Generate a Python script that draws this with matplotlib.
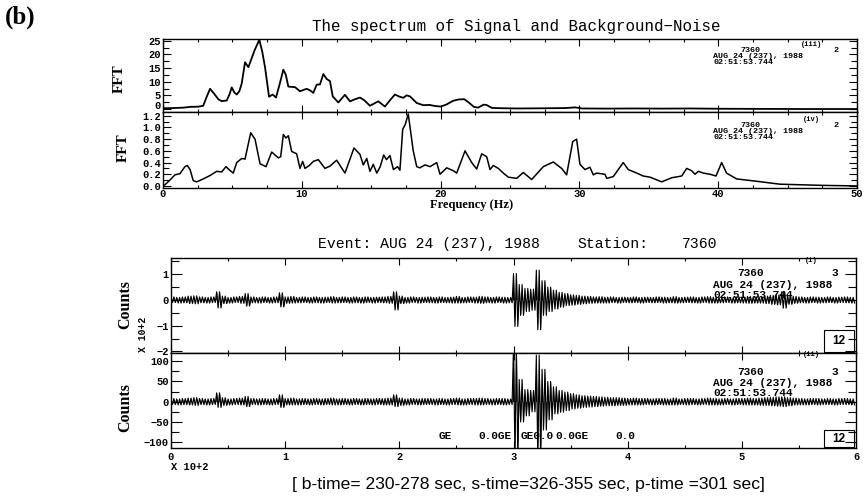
import numpy as np
import matplotlib
matplotlib.use("Agg")
import matplotlib.pyplot as plt
from matplotlib.ticker import MultipleLocator, FormatStrFormatter
from matplotlib.patches import Rectangle

W, H = 864, 496

# ---------------- spectrum data ----------------
freq_iii = [0.0, 0.7, 1.46, 2.0, 2.54, 2.9, 3.15, 3.39, 3.7, 4.0, 4.23, 4.59, 4.8, 4.95, 5.15,
            5.31, 5.5, 5.67, 5.91, 6.15, 6.6, 6.94, 7.15, 7.35, 7.64, 7.9, 8.14, 8.4, 8.67,
            8.85, 9.03, 9.51, 9.87, 10.35, 10.6, 10.83, 11.07, 11.31, 11.55, 11.79, 12.03,
            12.23, 12.63, 13.11, 13.47, 13.8, 14.19, 14.5, 14.91, 15.51, 15.99, 16.4, 16.71,
            17.05, 17.31, 17.55, 17.8, 18.28, 18.75, 19.2, 19.6, 20.0, 20.4, 20.9, 21.3, 21.7,
            22.0, 22.4, 22.7, 23.1, 23.3, 23.7, 24.3, 25.5, 27.0, 28.0, 29.0, 29.7, 30.2, 32.0,
            34.0, 36.0, 38.0, 40.0, 43.0, 46.0, 50.0]
fft_iii = [0.3, 0.35, 0.5, 0.8, 0.85, 1.2, 4.5, 7.4, 5.5, 3.5, 2.9, 3.1, 5.5, 7.9, 6.0,
           5.3, 6.5, 9.3, 17.1, 15.3, 21.5, 25.3, 21.0, 15.3, 4.5, 5.3, 4.2, 9.0, 14.4,
           12.5, 8.2, 8.0, 6.5, 7.4, 6.8, 5.9, 8.9, 9.0, 12.8, 11.0, 10.2,
           4.6, 2.4, 5.2, 2.8, 3.5, 4.2, 3.2, 1.2, 2.8, 0.9, 3.5, 5.3,
           4.5, 4.1, 5.0, 4.6, 2.2, 1.4, 1.5, 1.1, 0.9, 1.6, 3.0, 3.5, 3.6,
           2.5, 0.8, 0.5, 1.6, 1.5, 0.4, 0.3, 0.2, 0.25, 0.3, 0.35, 0.6, 0.2, 0.15,
           0.2, 0.15, 0.2, 0.1, 0.05, 0.0, 0.0]

freq_iv = [0.0, 0.14, 0.5, 0.86, 1.22, 1.58, 1.75, 1.95, 2.18, 2.43, 2.9, 3.4, 3.87, 4.23,
           4.54, 4.8, 5.06, 5.31, 5.67, 5.91, 6.32, 6.63, 6.99, 7.42, 7.83, 8.31, 8.48, 8.67,
           8.86, 9.03, 9.27, 9.63, 9.87, 10.06, 10.23, 10.54, 10.83, 11.19, 11.67, 12.03,
           12.51, 13.11, 13.76, 14.19, 14.43, 14.68, 14.91, 15.15, 15.4, 15.65, 15.9, 16.1,
           16.35, 16.6, 16.9, 17.07, 17.27, 17.45, 17.67, 18.03, 18.28, 18.5, 18.88, 19.24,
           19.72, 19.96, 20.44, 20.92, 21.16, 21.76, 22.24, 22.6, 22.96, 23.32, 23.56, 23.8,
           24.16, 24.52, 24.88, 25.48, 25.96, 26.56, 27.4, 28.12, 28.72, 29.08, 29.52, 29.8,
           30.04, 30.4, 30.76, 31.0, 31.25, 31.84, 31.97, 32.44, 32.8, 33.16, 33.52, 34.13,
           34.6, 35.09, 35.93, 36.65, 37.37, 37.73, 38.09, 38.33, 38.57, 38.93, 39.41, 39.84,
           40.25, 40.6, 41.33, 42.77, 44.45, 47.5, 50.0]
fft_iv = [0.0, 0.02, 0.1, 0.19, 0.21, 0.33, 0.35, 0.28, 0.09, 0.07, 0.12, 0.18, 0.25, 0.24,
          0.33, 0.27, 0.22, 0.40, 0.47, 0.46, 0.91, 0.80, 0.38, 0.33, 0.58, 0.48, 0.5, 0.88,
          0.82, 0.86, 0.59, 0.55, 0.3, 0.42, 0.3, 0.35, 0.42, 0.45, 0.3, 0.34,
          0.44, 0.22, 0.65, 0.54, 0.36, 0.47, 0.25, 0.37, 0.22, 0.33, 0.53, 0.45,
          0.52, 0.28, 0.33, 0.27, 0.97, 1.05, 1.23, 0.6, 0.33, 0.31, 0.36, 0.33,
          0.4, 0.2, 0.31, 0.26, 0.22, 0.6, 0.4, 0.29, 0.55, 0.5, 0.28, 0.35,
          0.3, 0.22, 0.15, 0.13, 0.23, 0.11, 0.33, 0.41, 0.3, 0.19, 0.76, 0.8,
          0.37, 0.28, 0.32, 0.19, 0.22, 0.2, 0.13, 0.16, 0.28, 0.4, 0.28, 0.22,
          0.17, 0.15, 0.07, 0.14, 0.17, 0.3, 0.26, 0.2, 0.25, 0.22, 0.2, 0.17,
          0.4, 0.22, 0.12, 0.08, 0.03, 0.01, 0.0]

# ---------------- seismogram envelopes (5 s bins, 0..595 s) ----------------
seis_bin = 5.0
seis_t = np.arange(0, 600, 5)
# trace (i), units of 100 counts
i_hi = [0.12, 0.10, 0.12, 0.15, 0.16, 0.12, 0.10, 0.12, 0.32, 0.15, 0.10, 0.12, 0.14, 0.25, 0.12,
        0.10, 0.12, 0.10, 0.12, 0.28, 0.12, 0.14, 0.10, 0.12, 0.10, 0.12, 0.10, 0.11, 0.13, 0.10,
        0.12, 0.10, 0.12, 0.10, 0.12, 0.10, 0.11, 0.12, 0.14, 0.32, 0.15, 0.10, 0.12, 0.10, 0.11,
        0.12, 0.10, 0.12, 0.10, 0.11, 0.14, 0.10, 0.12, 0.11, 0.14, 0.12, 0.10, 0.12, 0.11, 0.10,
        1.03, 0.60, 0.45, 0.42, 1.16, 0.75, 0.50, 0.38, 0.30, 0.25, 0.20, 0.18, 0.15, 0.14, 0.12,
        0.13, 0.11, 0.12, 0.10, 0.11, 0.10, 0.12, 0.10, 0.11, 0.10, 0.12, 0.11, 0.10, 0.13, 0.10,
        0.11, 0.12, 0.10, 0.12, 0.13, 0.11, 0.10, 0.12, 0.10, 0.12, 0.11, 0.14, 0.12, 0.13, 0.15,
        0.18, 0.20, 0.32, 0.18, 0.14, 0.12, 0.10, 0.12, 0.11, 0.10, 0.12, 0.10, 0.11, 0.12, 0.10]
i_lo = [0.10, 0.12, 0.11, 0.14, 0.15, 0.11, 0.12, 0.10, 0.31, 0.14, 0.12, 0.10, 0.13, 0.24, 0.11,
        0.12, 0.10, 0.12, 0.11, 0.27, 0.13, 0.12, 0.11, 0.10, 0.12, 0.11, 0.12, 0.10, 0.12, 0.11,
        0.10, 0.12, 0.11, 0.12, 0.10, 0.12, 0.10, 0.11, 0.13, 0.39, 0.14, 0.12, 0.10, 0.12, 0.10,
        0.11, 0.12, 0.10, 0.11, 0.12, 0.12, 0.11, 0.10, 0.12, 0.13, 0.11, 0.12, 0.10, 0.12, 0.11,
        1.03, 0.60, 0.45, 0.40, 1.16, 0.60, 0.45, 0.35, 0.28, 0.22, 0.20, 0.17, 0.15, 0.13, 0.12,
        0.12, 0.12, 0.10, 0.12, 0.10, 0.11, 0.10, 0.12, 0.10, 0.11, 0.10, 0.12, 0.11, 0.12, 0.11,
        0.10, 0.11, 0.12, 0.10, 0.12, 0.12, 0.11, 0.10, 0.12, 0.11, 0.12, 0.13, 0.12, 0.12, 0.14,
        0.17, 0.19, 0.32, 0.17, 0.13, 0.11, 0.12, 0.10, 0.12, 0.11, 0.10, 0.12, 0.10, 0.11, 0.12]
# trace (ii), counts
ii_hi = [8, 7, 8, 9, 10, 8, 7, 8, 22, 10, 7, 8, 9, 13, 8,
         7, 8, 7, 8, 17, 8, 9, 7, 8, 7, 8, 7, 8, 9, 7,
         8, 7, 8, 7, 8, 7, 8, 8, 9, 17, 9, 7, 8, 7, 8,
         8, 7, 8, 7, 8, 9, 7, 8, 8, 9, 8, 7, 8, 8, 7,
         140, 55, 30, 28, 115, 80, 50, 37, 28, 24, 20, 17, 15, 14, 13,
         12, 11, 10, 10, 9, 8, 9, 8, 8, 7, 8, 8, 7, 9, 7,
         8, 8, 7, 8, 9, 8, 7, 8, 7, 8, 8, 9, 8, 9, 10,
         11, 12, 12, 10, 9, 8, 7, 8, 8, 7, 8, 7, 8, 8, 7]
ii_lo = [7, 8, 7, 8, 9, 7, 8, 7, 14, 9, 8, 7, 8, 12, 7,
         8, 7, 8, 7, 14, 8, 8, 8, 7, 8, 7, 8, 7, 8, 8,
         7, 8, 7, 8, 7, 8, 7, 8, 8, 12, 9, 8, 7, 8, 7,
         7, 8, 7, 8, 7, 8, 8, 7, 8, 8, 7, 8, 7, 8, 7,
         140, 50, 35, 25, 140, 70, 45, 30, 26, 22, 18, 16, 14, 13, 12,
         11, 10, 10, 9, 9, 8, 8, 8, 7, 8, 7, 8, 8, 8, 7,
         8, 7, 8, 7, 8, 8, 8, 7, 8, 7, 8, 8, 8, 9, 9,
         10, 11, 12, 10, 8, 8, 8, 7, 8, 7, 7, 8, 7, 7, 8]

marker_labels = ["GE", "0.0GE", "GE0.0", "0.0GE", "0.0"]
marker_times = [234, 269, 306, 337, 389]

header_station = "7360"
header_date = "AUG 24 (237), 1988"
header_time = "02:51:53.744"

SERIF = ["Liberation Serif", "DejaVu Serif"]
MONO = ["Liberation Mono", "DejaVu Sans Mono"]
SANS = ["Liberation Sans", "DejaVu Sans"]

fig = plt.figure(figsize=(W / 100, H / 100), dpi=100)


def ax_px(l, t, r, b):
    return fig.add_axes([l / W, 1 - b / H, (r - l) / W, (b - t) / H])


def ftext(x, y, s, **kw):
    return fig.text(x / W, 1 - y / H, s, **kw)


def style(ax, xmaj, xmin, ymaj, ymin, ylen_maj, ylen_min, xlabels):
    ax.xaxis.set_major_locator(MultipleLocator(xmaj))
    ax.xaxis.set_minor_locator(MultipleLocator(xmin))
    ax.yaxis.set_major_locator(MultipleLocator(ymaj))
    ax.yaxis.set_minor_locator(MultipleLocator(ymin))
    ax.tick_params(which="both", direction="in", top=True, right=True, width=0.8,
                   labelsize=7.5, pad=1.5)
    ax.tick_params(axis="x", which="major", length=5)
    ax.tick_params(axis="x", which="minor", length=2.5)
    ax.tick_params(axis="y", which="major", length=ylen_maj)
    ax.tick_params(axis="y", which="minor", length=ylen_min)
    ax.tick_params(axis="x", labelbottom=xlabels)
    for s in ax.spines.values():
        s.set_linewidth(1.0)
    for lab in ax.get_xticklabels() + ax.get_yticklabels():
        lab.set_family(MONO)
        lab.set_fontweight("bold")


# ---------------- spectrum panels ----------------
ax3 = ax_px(163, 39.3, 857, 112.3)
ax3.plot(freq_iii, fft_iii, color="black", lw=1.3)
ax3.set_xlim(0, 50)
ax3.set_ylim(-1.2, 25.5)
style(ax3, 10, 2.5, 5, 2.5, 6, 4, False)

ax4 = ax_px(163, 112.3, 857, 187.7)
ax4.plot(freq_iv, fft_iv, color="black", lw=1.1)
ax4.set_xlim(0, 50)
ax4.set_ylim(-0.03, 1.26)
ax4.yaxis.set_major_formatter(FormatStrFormatter("%.1f"))
style(ax4, 10, 2.5, 0.2, 0.1, 6, 4, True)
ax4.tick_params(axis="x", pad=1)

# ---------------- seismogram panels ----------------
def trace(t, hi, lo, step):
    # two swings per bin between the bin's read maximum and minimum
    xs, ys = [], []
    for ti, h, l in zip(t, hi, lo):
        for k in range(2):
            xs += [ti + step * k / 2, ti + step * (k + 0.5) / 2]
            ys += [h, -l]
    return np.array(xs) / 100.0, np.array(ys)


ax1 = ax_px(171, 258.3, 856, 352.7)
x1, y1 = trace(seis_t, i_hi, i_lo, seis_bin)
ax1.fill_between(x1, y1, 0, color="black", lw=0)
ax1.plot(x1, y1, color="black", lw=0.8)
ax1.set_xlim(0, 6)
ax1.set_ylim(-2.05, 1.62)
style(ax1, 1, 0.5, 1, 0.5, 8, 6, False)

ax2 = ax_px(171, 352.7, 856, 448.3)
x2, y2 = trace(seis_t, ii_hi, ii_lo, seis_bin)
ax2.fill_between(x2, y2, 0, color="black", lw=0)
ax2.plot(x2, y2, color="black", lw=0.8)
ax2.set_xlim(0, 6)
ax2.set_ylim(-115, 121)
style(ax2, 1, 0.5, 50, 25, 8, 6, True)
ax2.tick_params(axis="x", pad=3)
for lab, tm in zip(marker_labels, marker_times):
    ax2.text(tm / 100.0, -85, lab, family=MONO, fontweight="bold", fontsize=8,
             ha="left", va="center")

# the "0" of panel (iii) sits on the panel border just above the "1.2" of (iv)
fig.canvas.draw()
for tk in ax3.yaxis.get_major_ticks():
    if tk.label1.get_text() == "0":
        tk.label1.set_verticalalignment("baseline")

# ---------------- texts ----------------
ftext(5, 17, "(b)", family=SERIF, fontweight="bold", fontsize=18, ha="left", va="center")
ftext(516, 27, "The spectrum of Signal and Background\u2212Noise", family=MONO,
      fontsize=11.4, ha="center", va="center")
ftext(318, 244, "Event: AUG 24 (237), 1988", family=MONO, fontsize=10.6, ha="left", va="center")
ftext(577, 244, "Station:", family=MONO, fontsize=10.6, ha="left", va="center")
ftext(682, 244, "7360", family=MONO, fontsize=10.6, ha="left", va="center")

ftext(119, 79, "FFT", family=SERIF, fontweight="bold", fontsize=11, rotation=90,
      ha="center", va="center")
ftext(123, 148, "FFT", family=SERIF, fontweight="bold", fontsize=11, rotation=90,
      ha="center", va="center")
ftext(472, 205, "Frequency (Hz)", family=SERIF, fontweight="bold", fontsize=9,
      ha="center", va="center")
ftext(125, 305, "Counts", family=SERIF, fontweight="bold", fontsize=11.5, rotation=90,
      ha="center", va="center")
ftext(125, 408, "Counts", family=SERIF, fontweight="bold", fontsize=11.5, rotation=90,
      ha="center", va="center")
ftext(143, 334, "X 10+2", family=MONO, fontweight="bold", fontsize=7, rotation=90,
      ha="center", va="center")
ftext(171, 467, "X 10+2", family=MONO, fontweight="bold", fontsize=7.5, ha="left", va="center")
ftext(528, 484, "[ b-time= 230-278 sec, s-time=326-355 sec, p-time =301 sec]", family=SANS,
      fontsize=12.6, ha="center", va="center")


def header(tag, tag_y, num, y1, y2, y3, fs):
    ftext(811, tag_y, tag, family=MONO, fontweight="bold", fontsize=5, ha="center", va="center")
    ftext(750, y1, header_station, family=MONO, fontweight="bold", fontsize=fs, ha="center",
          va="center")
    ftext(838, y1, num, family=MONO, fontweight="bold", fontsize=fs, ha="right", va="center")
    ftext(713, y2, header_date, family=MONO, fontweight="bold", fontsize=fs, ha="left",
          va="center")
    ftext(713, y3, header_time, family=MONO, fontweight="bold", fontsize=fs, ha="left",
          va="center")


header("(iii)", 44, "2", 50.7, 56.7, 62.7, 6)
header("(iv)", 119, "2", 125.7, 131.7, 137.7, 6)
header("(i)", 260, "3", 273.3, 285, 295.5, 8)
header("(ii)", 354, "3", 371.7, 383, 393, 8)

for (bx0, by0, bx1, by1) in [(823.7, 330, 853.7, 351.7), (824, 430, 854, 446.7)]:
    fig.add_artist(Rectangle((bx0 / W, 1 - by1 / H), (bx1 - bx0) / W, (by1 - by0) / H,
                             transform=fig.transFigure, fill=False, lw=0.8, color="black"))
    ftext((bx0 + bx1) / 2, (by0 + by1) / 2 + 0.5, "12", family=SANS, fontweight="bold",
          fontsize=8.5, ha="center", va="center")

fig.savefig("out.png", dpi=100)
